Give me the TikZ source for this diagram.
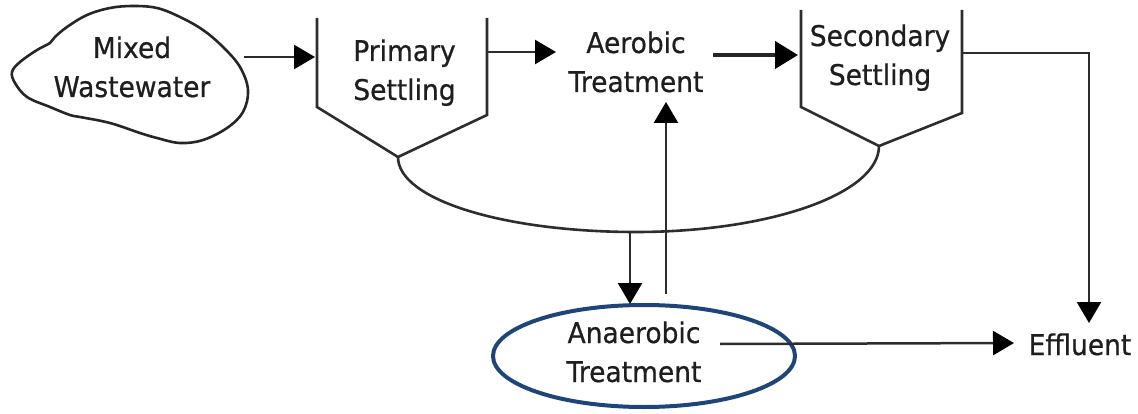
\documentclass[tikz,border=0pt]{standalone}
\usepackage{fontspec}
\setmainfont{DejaVu Sans}[FakeStretch=0.93,FakeBold=0.6]
\usetikzlibrary{arrows.meta,calc}
\definecolor{ln}{RGB}{45,45,45}
\definecolor{tx}{RGB}{30,30,30}
\definecolor{ellc}{RGB}{31,68,120}
\begin{document}
\begin{tikzpicture}[x=1pt,y=-1pt,
  lbl/.style={font=\fontsize{28.5}{39}\selectfont, text=tx, align=center, inner sep=0pt, anchor=base},
  wall/.style={draw=ln, line width=2.6pt, line join=miter},
  flow/.style={draw=ln, line width=2.5pt, -{Triangle[length=21pt,width=24pt,color=black]}},
  flowthick/.style={draw=black!85, line width=4.2pt, -{Triangle[length=23pt,width=27pt,color=black]}},
  blob/.style={draw=black!85, line width=2.6pt},
  ellline/.style={draw=ellc, line width=4pt}]
\useasboundingbox (0,0) rectangle (1138,414);
% cloud
\draw[blob] plot[smooth cycle, tension=0.6] coordinates {
 (12,72) (20,62) (37,50) (50,43) (55,37) (67,27) (87,15) (110,8) (133,6) (157,8)
 (180,17) (203,30) (223,47) (240,67) (248,90) (243,112) (227,128) (203,140) (180,143)
 (157,138) (140,133) (110,123) (80,117) (70,115) (50,107) (27,97) (15,83)};
\node[lbl] (mixed) at (132,97) {Mixed\\Wastewater};
\coordinate (cloudE) at (244,57);
\coordinate (pInL) at (315,57);
\draw[flow] (cloudE) -- (pInL);
% primary settling
\coordinate (p1) at (317,18);
\coordinate (p2) at (317,107);
\coordinate (pV) at (398,157);
\coordinate (p3) at (487,115);
\coordinate (p4) at (487,18);
\draw[wall] (p1) -- (p2) -- (pV) -- (p3) -- (p4);
\node[lbl] (primary) at (404.5,100) {Primary\\Settling};
\coordinate (pOut) at (487,52);
\coordinate (aIn) at (556,52);
\draw[flow] (pOut) -- (aIn);
% aerobic
\node[lbl] (aerobic) at (636,92) {Aerobic\\Treatment};
\coordinate (aOut) at (713,55);
\coordinate (sIn) at (798,55);
\draw[flowthick] (aOut) -- (sIn);
% secondary settling
\coordinate (s1) at (801,10);
\coordinate (s2) at (801,107);
\coordinate (sV) at (879,146);
\coordinate (s3) at (962,113);
\coordinate (s4) at (962,10);
\draw[wall] (s1) -- (s2) -- (sV) -- (s3) -- (s4);
\node[lbl] (secondary) at (880,85) {Secondary\\Settling};
\coordinate (sOut) at (962,53);
\coordinate (effIn) at (1089,323);
\draw[flow] (sOut) -| (effIn);
% sludge curve
\coordinate (cBot) at (636,232);
\draw[wall] (pV) .. controls (398,200) and (505,232) .. (cBot) .. controls (769,232) and (879,194) .. (sV);
\coordinate (dTop) at (630,232);
\coordinate (dEnd) at (630,304);
\draw[flow] (dTop) -- (dEnd);
\coordinate (uBot) at (666,294);
\coordinate (uTop) at (666,102);
\draw[flow] (uBot) -- (uTop);
% anaerobic
\draw[ellline] (644,356) ellipse [x radius=151, y radius=51];
\node[lbl] (anaerobic) at (634,382) {Anaerobic\\Treatment};
\coordinate (anOut) at (720,344);
\coordinate (effW) at (1014,343);
\draw[flow] (anOut) -- (effW);
\node[lbl] (effluent) at (1080,355) {Effluent};
\end{tikzpicture}
\end{document}
